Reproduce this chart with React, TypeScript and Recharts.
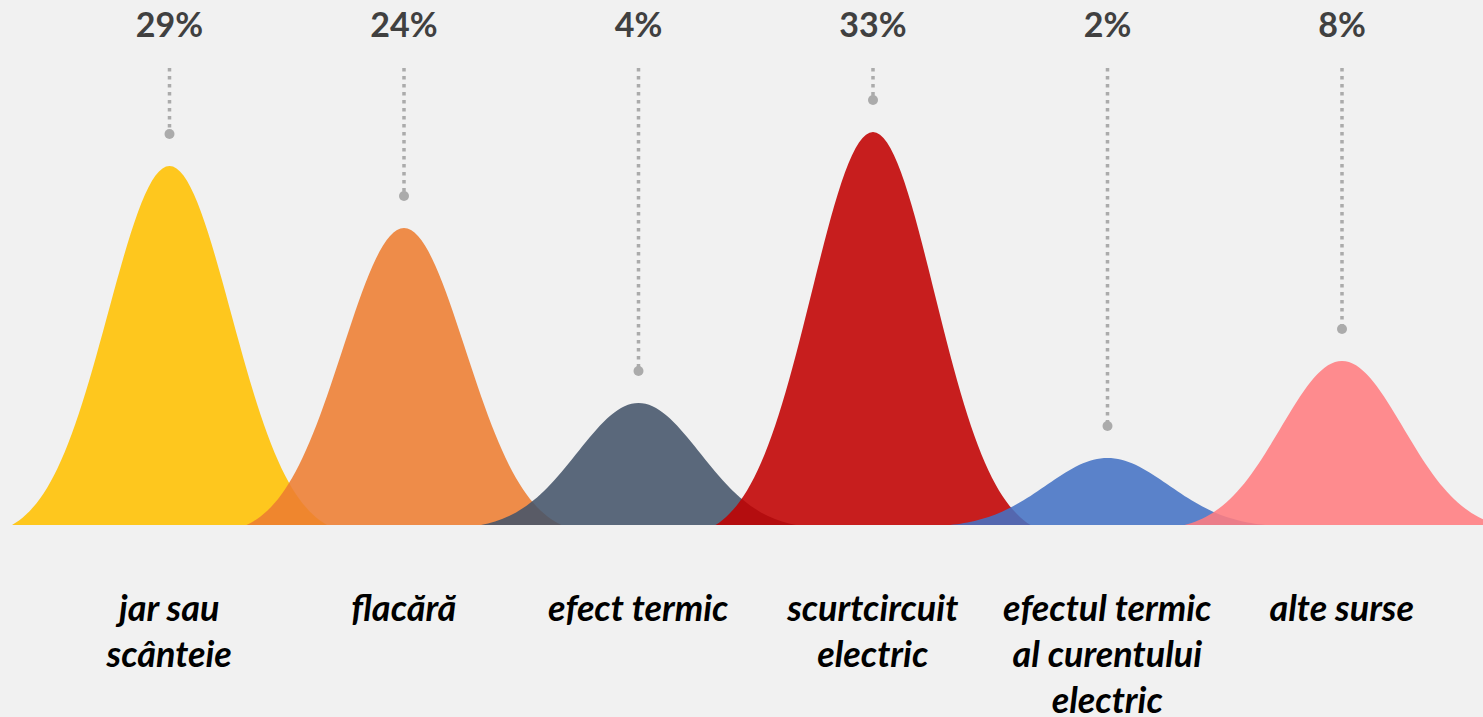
import { BarChart, Bar, XAxis, YAxis, LabelList } from "recharts";

const categories = [
  "jar sau\nscânteie",
  "flacără",
  "efect termic",
  "scurtcircuit\nelectric",
  "efectul termic\nal curentului\nelectric",
  "alte surse",
];
const shares = [29, 24, 4, 33, 2, 8];
// peak heights as drawn (not proportional to the shares)
const curveHeights = [359, 297, 122, 393, 67, 164];
const colors = ["#FFC000", "#ED7D31", "#44546A", "#C00000", "#4472C4", "#FF7C80"];

const chartData = categories.map((name, i) => ({
  name,
  share: shares[i],
  height: curveHeights[i],
  color: colors[i],
}));

const FONT = "Lato, 'Open Sans', sans-serif";

// bell curve drawn inside the bar's box, a bit wider than the band so neighbours overlap
const BellShape = (props: any) => {
  const { x, y, width, height, payload } = props;
  if (!height) return null;
  const cx = x + width / 2;
  const base = y + height;
  const half = width * 0.67;
  const sigma = half * 0.39;
  const floor = Math.exp(-(half * half) / (2 * sigma * sigma));
  const steps = 90;
  let d = `M${cx - half},${base}`;
  for (let i = 0; i <= steps; i++) {
    const t = -half + (2 * half * i) / steps;
    const f = (Math.exp(-(t * t) / (2 * sigma * sigma)) - floor) / (1 - floor);
    d += ` L${(cx + t).toFixed(2)},${(base - f * height).toFixed(2)}`;
  }
  d += " Z";
  return <path d={d} fill={payload.color} fillOpacity={0.88} stroke="none" />;
};

const renderMarker = (props: any) => {
  const { x, y, width, value } = props;
  const cx = x + width / 2;
  const dotY = y - 32;
  return (
    <g>
      <text
        x={cx}
        y={37}
        textAnchor="middle"
        fontFamily={FONT}
        fontWeight={700}
        fontSize={34}
        fill="#404040"
      >
        {value}%
      </text>
      <line
        x1={cx}
        x2={cx}
        y1={68}
        y2={dotY}
        stroke="#ABABAB"
        strokeWidth={3.5}
        strokeDasharray="3.5 4.5"
      />
      <circle cx={cx} cy={dotY} r={5} fill="#ABABAB" />
    </g>
  );
};

const renderTick = (props: any) => {
  const { x, y, payload } = props;
  const lines = String(payload.value).split("\n");
  return (
    <text
      x={x}
      y={y + 88}
      textAnchor="middle"
      fontFamily={FONT}
      fontWeight={700}
      fontStyle="italic"
      fontSize={36}
      fill="#000"
    >
      {lines.map((line, i) => (
        <tspan key={i} x={x} dy={i === 0 ? 0 : 46}>
          {line}
        </tspan>
      ))}
    </text>
  );
};

export default function App() {
  return (
    <div
      style={{
        position: "absolute",
        left: 0,
        top: 0,
        width: 1483,
        height: 717,
        background: "#F1F1F1",
      }}
    >
      <BarChart
        width={1483}
        height={717}
        data={chartData}
        margin={{ top: 0, right: 24, left: 52, bottom: 42 }}
        barCategoryGap={0}
      >
        <XAxis
          dataKey="name"
          height={150}
          axisLine={false}
          tickLine={false}
          interval={0}
          tick={renderTick}
        />
        <YAxis hide domain={[0, 525]} />
        <Bar dataKey="height" shape={BellShape} isAnimationActive={false}>
          <LabelList dataKey="share" content={renderMarker} />
        </Bar>
      </BarChart>
    </div>
  );
}
